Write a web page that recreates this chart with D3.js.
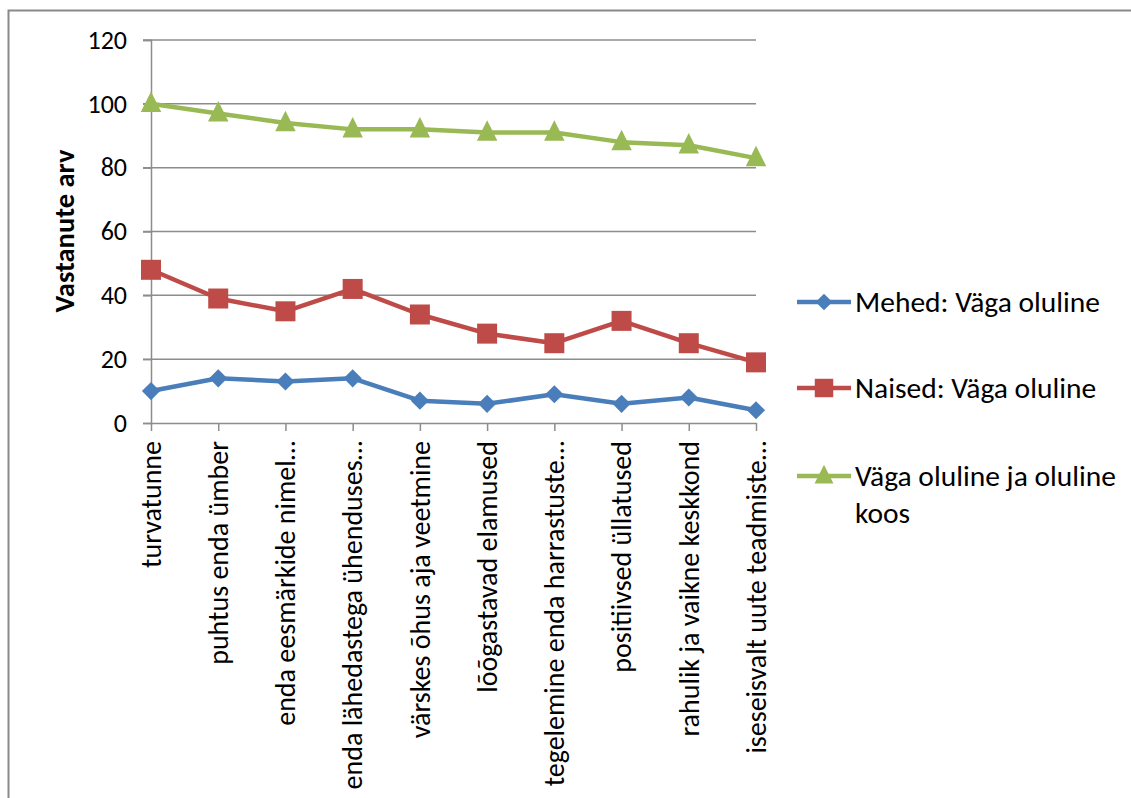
<!DOCTYPE html>
<html>
<head>
<meta charset="utf-8">
<script src="https://cdn.jsdelivr.net/npm/d3@7"></script>
<style>
  body { margin: 0; background: #fff; }
  svg { display: block; }
  text { font-family: Carlito, Calibri, Lato, sans-serif; fill: #000; }
</style>
</head>
<body>
<svg id="chart"></svg>
<script>
// ******************** Data ************************
var categories = ["turvatunne", "puhtus enda ümber", "enda eesmärkide nimel…",
    "enda lähedastega ühenduses…", "värskes õhus aja veetmine", "lõõgastavad elamused",
    "tegelemine enda harrastuste…", "positiivsed üllatused", "rahulik ja vaikne keskkond",
    "iseseisvalt uute teadmiste…"];
var mehed = [10, 14, 13, 14, 7, 6, 9, 6, 8, 4];
var naised = [48, 39, 35, 42, 34, 28, 25, 32, 25, 19];
var koos = [100, 97, 94, 92, 92, 91, 91, 88, 87, 83];
var seriesNames = ["Mehed: Väga oluline", "Naised: Väga oluline", "Väga oluline ja oluline koos"];
var yTicks = [0, 20, 40, 60, 80, 100, 120];

// Excel style triangle: as tall as it is wide
var triangle = {
    draw: function (ctx, size) {
        var h = Math.sqrt(size);
        ctx.moveTo(0, -h * 0.6);
        ctx.lineTo(h / 2, h * 0.4);
        ctx.lineTo(-h / 2, h * 0.4);
        ctx.closePath();
    }
};

var series = [
    { name: seriesNames[0], values: mehed, color: "#4a7ebb", symbol: d3.symbolDiamond2, size: 210 },
    { name: seriesNames[1], values: naised, color: "#be4b48", symbol: d3.symbolSquare, size: 400 },
    { name: seriesNames[2], values: koos, color: "#98b954", symbol: triangle, size: 420 }
];

// ******************** Layout ************************
var W = 1131, H = 798;
var svg = d3.select("#chart").attr("width", W).attr("height", H);

var x = d3.scalePoint().domain(categories).range([151, 756]);
var y = d3.scaleLinear().domain([0, 120]).range([423, 40]);

// outer chart border
svg.append("rect")
    .attr("x", 8.5).attr("y", 10.5)
    .attr("width", 1140).attr("height", 820)
    .attr("fill", "none").attr("stroke", "#898989").attr("stroke-width", 2);

// gridlines
svg.append("g")
    .selectAll("line")
    .data(yTicks.filter(function (d) { return d > 0; }))
    .enter().append("line")
    .attr("x1", 143).attr("x2", 756)
    .attr("y1", function (d) { return y(d); })
    .attr("y2", function (d) { return y(d); })
    .attr("stroke", "#8c8c8c").attr("stroke-width", 1.5);

// y axis
var yAxis = svg.append("g")
    .attr("transform", "translate(151,0)")
    .call(d3.axisLeft(y).tickValues(yTicks).tickSize(8).tickPadding(16));
yAxis.select(".domain").attr("stroke", "#8c8c8c").attr("stroke-width", 1.5);
yAxis.selectAll(".tick line").attr("stroke", "#8c8c8c").attr("stroke-width", 1.5);
yAxis.selectAll(".tick text")
    .style("font-family", "Carlito, Calibri, Lato, sans-serif")
    .style("font-size", "26px").attr("fill", "#000");

// x axis
var xAxis = svg.append("g")
    .attr("transform", "translate(0,423)")
    .call(d3.axisBottom(x).tickSize(8).tickSizeOuter(0).tickFormat(""));
xAxis.select(".domain").attr("stroke", "#8c8c8c").attr("stroke-width", 1.5);
xAxis.selectAll(".tick line").attr("stroke", "#8c8c8c").attr("stroke-width", 1.5);

// category labels
svg.append("g")
    .selectAll("text")
    .data(categories)
    .enter().append("text")
    .attr("transform", function (d) { return "translate(" + x(d) + ",441) rotate(-90)"; })
    .attr("text-anchor", "end")
    .attr("dy", "0.35em")
    .style("font-size", "28px")
    .text(function (d) { return d; });

// y title
svg.append("text")
    .attr("transform", "translate(64,231) rotate(-90)")
    .attr("text-anchor", "middle")
    .attr("dy", "0.35em")
    .style("font-size", "28.5px")
    .style("font-weight", "bold")
    .text("Vastanute arv");

// lines and markers
var line = d3.line()
    .x(function (d, i) { return x(categories[i]); })
    .y(function (d) { return y(d); });

series.forEach(function (s) {
    var g = svg.append("g");
    g.append("path")
        .attr("d", line(s.values))
        .attr("fill", "none")
        .attr("stroke", s.color)
        .attr("stroke-width", 4.5)
        .attr("stroke-linejoin", "round");
    g.selectAll("path.m")
        .data(s.values)
        .enter().append("path")
        .attr("class", "m")
        .attr("d", d3.symbol().type(s.symbol).size(s.size))
        .attr("transform", function (d, i) {
            return "translate(" + x(categories[i]) + "," + y(d) + ")";
        })
        .attr("fill", s.color);
});

// legend
var legendY = [302, 388, 476];
var leg = svg.append("g");
series.forEach(function (s, i) {
    var g = leg.append("g").attr("transform", "translate(0," + legendY[i] + ")");
    g.append("line")
        .attr("x1", 797).attr("x2", 851)
        .attr("stroke", s.color).attr("stroke-width", 4.5);
    g.append("path")
        .attr("d", d3.symbol().type(s.symbol).size(s.size * 0.85))
        .attr("transform", "translate(824,0)")
        .attr("fill", s.color);
    var t = g.append("text")
        .attr("x", 855)
        .attr("dy", "0.35em")
        .style("font-size", "29.5px");
    if (i === 2) {
        t.append("tspan").attr("x", 855).text("Väga oluline ja oluline");
        t.append("tspan").attr("x", 855).attr("dy", "1.25em").text("koos");
    } else {
        t.text(s.name);
    }
});
</script>
</body>
</html>
